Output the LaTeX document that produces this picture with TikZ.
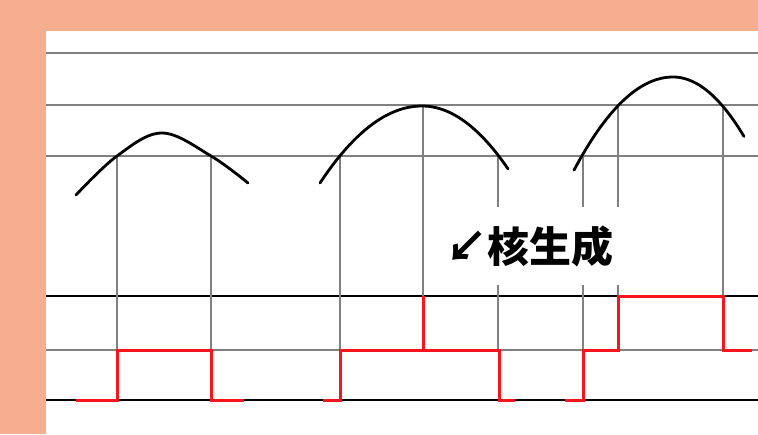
\documentclass[tikz,border=0pt]{standalone}
\usepackage{fontspec}
\newfontfamily\cjk{Noto Sans CJK JP}
\definecolor{salmon}{RGB}{245,175,143}
\definecolor{lgray}{RGB}{128,128,128}
\definecolor{lred}{RGB}{250,20,30}
\begin{document}
\begin{tikzpicture}[x=1pt,y=-1pt,
  gline/.style={draw=lgray,line width=2.4pt},
  bline/.style={draw=black,line width=1.5pt},
  vline/.style={draw=lgray,line width=2.4pt},
  curve/.style={draw=black,line width=2.8pt,line cap=round,line join=round},
  redline/.style={draw=lred,line width=3pt},
  label/.style={fill=white,minimum width=206pt,minimum height=78pt,inner sep=0pt,font=\cjk\bfseries\fontsize{42pt}{44pt}\selectfont}]
\useasboundingbox (0,0) rectangle (758,434);
\fill[salmon] (0,0) rectangle (758,434);
\fill[white] (46,31) rectangle (758,434);
% horizontal lines
\foreach \yy in {53,105,156} \draw[gline] (46,\yy) -- (758,\yy);
\draw[bline] (46,296) -- (758,296);
\draw[gline] (46,350) -- (758,350);
\draw[bline] (46,400) -- (758,400);
% vertical lines
\draw[vline] (117,156) -- (117,350);
\draw[vline] (211,156) -- (211,350);
\draw[vline] (340,156) -- (340,350);
\draw[vline] (423,105) -- (423,296);
\draw[vline] (498,156) -- (498,350);
\draw[vline] (583,156) -- (583,350);
\draw[vline] (618,105) -- (618,296);
\draw[vline] (723,105) -- (723,296);
% curves
\draw[curve] plot[smooth,tension=0.6] coordinates {(76,195) (117,156) (162,133) (211,156) (248,183)};
\draw[curve] plot[domain=320:422,samples=40] (\x,{106+0.0074*(\x-422)^2})
  -- plot[domain=422:508,samples=40] (\x,{106+0.0085*(\x-422)^2});
\draw[curve] plot[domain=574:673,samples=40] (\x,{77+0.0095*(\x-673)^2})
  -- plot[domain=673:744,samples=40] (\x,{77+0.0118*(\x-673)^2});
% red steps
\draw[redline] (76,400) -| (117,350) -| (211,400) -- (244,400);
\draw[redline] (323,400) -| (340,350) -| (499,400) -- (515,400);
\draw[redline] (423,350) -- (423,296);
\draw[redline] (565,400) -| (583,350) -| (618,296) -| (723,350) -- (752,350);
% label
\node[label] (lab) at (529,246) {↙核生成};
\end{tikzpicture}
\end{document}
